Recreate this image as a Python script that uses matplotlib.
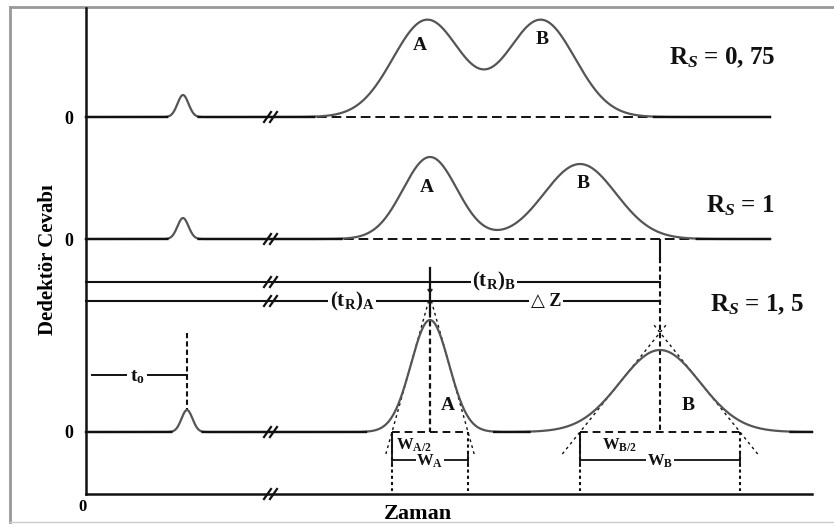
import numpy as np
import matplotlib
matplotlib.use('Agg')
import matplotlib.pyplot as plt

plt.rcParams['font.family'] = ['Liberation Serif', 'DejaVu Sans']
plt.rcParams['font.weight'] = 'bold'
plt.rcParams['mathtext.fontset'] = 'custom'
plt.rcParams['mathtext.rm'] = 'Liberation Serif:bold'
plt.rcParams['mathtext.it'] = 'Liberation Serif:italic:bold'
plt.rcParams['mathtext.bf'] = 'Liberation Serif:bold'

# three chromatograms, top to bottom (time axis in px, response drawn upward)
rs_labels = [r'R$_{\mathit{S}}$ = 0, 75', r'R$_{\mathit{S}}$ = 1', r'R$_{\mathit{S}}$ = 1, 5']
base_y = [117, 239, 432]
trace_end = [770, 770, 812]
t0_x = [183, 183, 187]
t0_h = [22, 21, 22]
t0_sig = [5.5, 5.5, 5.5]
a_x = [427, 430, 430]
a_h = [97, 82, 112]
a_sig = [34, 27, 19]
b_x = [541, 580, 660]
b_h = [97, 75, 82]
b_sig = [34, 36, 40]

X0 = 86          # y-axis position
X_AXIS_Y = 494   # time axis
BREAK_X = 271

INK = '#111111'
CURVE = '#555555'


def gauss(x, mu, h, s):
    return h * np.exp(-0.5 * ((x - mu) / s) ** 2)


def break_mark(ax, x, y):
    for dx in (-3, 3):
        ax.plot([x + dx - 4, x + dx + 3], [y + 5, y - 5], color=INK, lw=1.6, zorder=5)


def lbl(ax, x, y, s, size=12, **kw):
    ax.text(x, y, s, fontsize=size, fontweight='bold', ha='center', va='center',
            color=INK, zorder=6, **kw)


WHITE = dict(facecolor='white', edgecolor='none', pad=1)

fig = plt.figure(figsize=(8.34, 5.27), dpi=100)
ax = fig.add_axes([0, 0, 1, 1])
ax.set_xlim(0, 834)
ax.set_ylim(527, 0)
ax.axis('off')

# frame of the original figure
ax.plot([10, 834], [7, 7], color='#999999', lw=2)
ax.plot([10, 10], [7, 522], color='#999999', lw=2)
ax.plot([10, 834], [522, 522], color='#cccccc', lw=1)

# axes
ax.plot([X0, X0], [8, X_AXIS_Y], color=INK, lw=1.8)
ax.plot([X0, 812], [X_AXIS_Y, X_AXIS_Y], color=INK, lw=1.8)
break_mark(ax, BREAK_X, X_AXIS_Y)
ax.text(83, 507, '0', fontsize=12, fontweight='bold', ha='center', va='center')

a_lbl_pos = [(420, 45), (427, 187), (448, 405)]
b_lbl_pos = [(542, 40), (583, 183), (688, 405)]
rs_pos = [(722, 58), (740, 206), (757, 305)]

for i in range(3):
    x = np.linspace(X0, trace_end[i], 2000)
    main = gauss(x, a_x[i], a_h[i], a_sig[i]) + gauss(x, b_x[i], b_h[i], b_sig[i])
    elev = main + gauss(x, t0_x[i], t0_h[i], t0_sig[i])
    y = base_y[i] - elev
    ax.plot(x, y, color=CURVE, lw=1.6, zorder=3)
    flat = np.where(elev < 0.4, base_y[i], np.nan)
    ax.plot(x, flat, color=INK, lw=1.7, zorder=4)
    break_mark(ax, BREAK_X, base_y[i])
    ax.text(69, base_y[i] + 2, '0', fontsize=13, fontweight='bold', ha='center', va='center')

    if i < 2:
        up = x[main > 0.5]
        ax.plot([up[0], up[-1]], [base_y[i], base_y[i]], color=INK, lw=1.4,
                ls=(0, (5, 2.5)), zorder=2)

    lbl(ax, *a_lbl_pos[i], 'A', size=14)
    lbl(ax, *b_lbl_pos[i], 'B', size=14)
    lbl(ax, *rs_pos[i], rs_labels[i], size=18)

# ---- construction lines on the R_S = 1,5 chromatogram ----
yb = base_y[2]
wa = (a_x[2] - 2 * a_sig[2], a_x[2] + 2 * a_sig[2])
wb = (b_x[2] - 2 * b_sig[2], b_x[2] + 2 * b_sig[2])

for lo, hi in (wa, wb):
    ax.plot([lo, hi], [yb, yb], color=INK, lw=1.4, ls=(0, (4, 2.5)), zorder=2)
    for xe in (lo, hi):
        ax.plot([xe, xe], [yb, X_AXIS_Y - 3], color=INK, lw=1.5, ls=(0, (1.5, 1.5)))
    ax.plot([lo, lo], [yb + 1, yb + 20], color=INK, lw=1.4)
    # width bar
    ax.plot([lo, hi], [460, 460], color=INK, lw=1.3)
    for xe in (lo, hi):
        ax.plot([xe, xe], [454, 466], color=INK, lw=1.3)

# tangents through inflection points
for mu, h, s in ((a_x[2], a_h[2], a_sig[2]), (b_x[2], b_h[2], b_sig[2])):
    apex = yb - 2 * h * np.exp(-0.5)
    slope = (yb - apex) / (2 * s)
    ext = 22
    for side in (-1, 1):
        xs = [mu + side * (2 * s + ext / slope), mu - side * 8 / slope]
        ys = [yb + ext, apex - 8]
        ax.plot(xs, ys, color=INK, lw=1.0, ls=(0, (2, 2.5)), zorder=2)

lbl(ax, (wa[0] + a_x[2]) / 2 + 3, 445, r'W$_\mathrm{A/2}$', size=12,
    bbox=dict(facecolor='white', edgecolor='none', pad=0.5))
lbl(ax, a_x[2], 461, r'W$_\mathrm{A}$', size=12,
    bbox=dict(facecolor='white', edgecolor='none', pad=0.5))
lbl(ax, (wb[0] + b_x[2]) / 2, 445, r'W$_\mathrm{B/2}$', size=12,
    bbox=dict(facecolor='white', edgecolor='none', pad=0.5))
lbl(ax, b_x[2], 461, r'W$_\mathrm{B}$', size=12,
    bbox=dict(facecolor='white', edgecolor='none', pad=0.5))

# retention time lines
ax.plot([a_x[2], a_x[2]], [268, 312], color=INK, lw=1.6)
ax.plot([a_x[2], a_x[2]], [312, yb], color=INK, lw=1.6, ls=(0, (2.5, 1.5)))
ax.plot([b_x[2], b_x[2]], [base_y[1] + 1, 258], color=INK, lw=1.5)
ax.plot([b_x[2], b_x[2]], [258, yb], color=INK, lw=1.5, ls=(0, (2.5, 1.5)))
for yy in (282, 301):
    ax.plot([X0, b_x[2]], [yy, yy], color=INK, lw=1.5)
    break_mark(ax, BREAK_X, yy)
lbl(ax, 494, 281, r'(t$_\mathrm{R}$)$_\mathrm{B}$', size=15, bbox=WHITE)
lbl(ax, 352, 301, r'(t$_\mathrm{R}$)$_\mathrm{A}$', size=15, bbox=WHITE)
lbl(ax, 546, 301, '\u25b3 Z', size=13, bbox=WHITE)

# dead time
ax.plot([t0_x[2], t0_x[2]], [333, yb - t0_h[2]], color=INK, lw=1.5, ls=(0, (2.5, 1.5)))
ax.plot([92, t0_x[2]], [375, 375], color=INK, lw=1.4)
lbl(ax, 137, 377, r't$_\mathrm{o}$', size=14,
    bbox=dict(facecolor='white', edgecolor='none', pad=2))

# axis titles
ax.text(418, 514, 'Zaman', fontsize=16, fontweight='bold', ha='center', va='center')
ax.text(48, 260, 'Dedektör Cevabı', fontsize=15, fontweight='bold', ha='center',
        va='center', rotation=90)

fig.savefig('out.png', dpi=100)
